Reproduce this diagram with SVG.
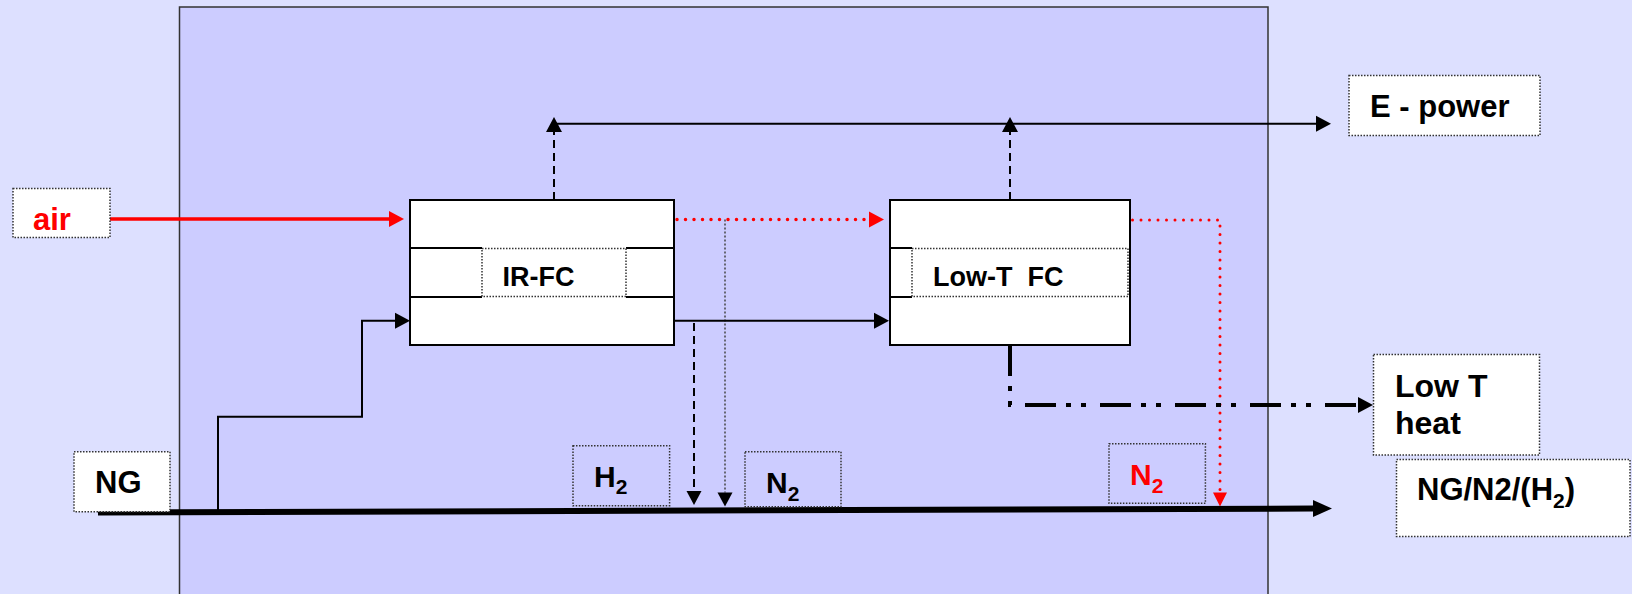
<svg xmlns="http://www.w3.org/2000/svg" width="1632" height="594" viewBox="0 0 1632 594">
<defs>
<style>
.t{font-family:"Liberation Sans",Arial,sans-serif;font-weight:bold;fill:#000}
.red{fill:#ff0000}
.lbl{stroke:#333;stroke-width:1.5;stroke-dasharray:1.5 1.5}
.wh{fill:#fff}
.clear{fill:none}
.fc{fill:#fff;stroke:#000;stroke-width:2}
.div{stroke:#000;stroke-width:2}
.ln{fill:none;stroke:#000;stroke-width:2}
.dash{stroke-dasharray:8 5}
.rdot{fill:none;stroke:#ff0000;stroke-width:3.5;stroke-linecap:round;stroke-dasharray:0 8.5}
</style>
<marker id="ah" markerUnits="userSpaceOnUse" markerWidth="16" markerHeight="16" refX="0" refY="8" orient="auto" overflow="visible">
<path d="M0,0 L15,8 L0,16 z" fill="#000"/>
</marker>
<marker id="ahs" markerUnits="userSpaceOnUse" markerWidth="15" markerHeight="15" refX="0" refY="7.5" orient="auto" overflow="visible">
<path d="M0,0 L14,7.5 L0,15 z" fill="#000"/>
</marker>
<marker id="ahr" markerUnits="userSpaceOnUse" markerWidth="16" markerHeight="16" refX="0" refY="8" orient="auto" overflow="visible">
<path d="M0,0 L15,8 L0,16 z" fill="#ff0000"/>
</marker>
<marker id="ahrs" markerUnits="userSpaceOnUse" markerWidth="15" markerHeight="15" refX="0" refY="7" orient="auto" overflow="visible">
<path d="M0,0 L14,7 L0,14 z" fill="#ff0000"/>
</marker>
<marker id="ahb" markerUnits="userSpaceOnUse" markerWidth="20" markerHeight="18" refX="0" refY="8.5" orient="auto" overflow="visible">
<path d="M0,0 L19,8.5 L0,17 z" fill="#000"/>
</marker>
</defs>

<rect width="1632" height="594" fill="#dde0ff"/>
<rect id="system" x="179.5" y="7" width="1088.5" height="600" fill="#ccccff" stroke="#333" stroke-width="1.5"/>

<g id="connectors">
<path d="M104,219 L389,219" fill="none" stroke="#ff0000" stroke-width="3.5" marker-end="url(#ahr)"/>
<path d="M554,200 L554,132" class="ln dash" marker-end="url(#ah)"/>
<path d="M1010,200 L1010,132" class="ln dash" marker-end="url(#ah)"/>
<path d="M553,123.7 L1316,123.7" class="ln" marker-end="url(#ah)"/>
<path d="M677,219.5 L869,219.5" class="rdot" marker-end="url(#ahr)"/>
<path d="M1124,220 L1220,220 L1220,492.5" class="rdot" style="stroke-width:3" marker-end="url(#ahrs)"/>
<path d="M725,219.5 L725,492.5" fill="none" stroke="#444" stroke-width="1.5" stroke-dasharray="2 2" marker-end="url(#ahs)"/>
<path d="M694,323 L694,491" class="ln dash" marker-end="url(#ahs)"/>
<path d="M674,320.7 L874,320.7" class="ln" marker-end="url(#ah)"/>
<path d="M218,511 L218,416.7 L362,416.7 L362,320.7 L395,320.7" class="ln" marker-end="url(#ah)"/>
<path d="M98,512.5 L1313,508.5" fill="none" stroke="#000" stroke-width="6" marker-end="url(#ahb)"/>
<path d="M1010,345 L1010,405 L1358,405" fill="none" stroke="#000" stroke-width="4" stroke-dasharray="31 10 5 10 5 14" marker-end="url(#ah)"/>
</g>

<g id="air">
<rect x="13" y="188.5" width="97" height="49" class="lbl wh"/>
<text x="33" y="230" class="t red" font-size="31">air</text>
</g>

<g id="ir-fc">
<rect x="410" y="200" width="264" height="145" class="fc"/>
<path d="M410,248 H482 M626,248 H674 M410,297 H482 M626,297 H674" class="div"/>
<rect x="482" y="248.5" width="144" height="48" class="lbl wh"/>
<text x="502.5" y="285.5" class="t" font-size="27">IR-FC</text>
</g>

<g id="low-t-fc">
<rect x="890" y="200" width="240" height="145" class="fc"/>
<path d="M890,248 H912 M890,297 H912" class="div"/>
<rect x="912" y="248.5" width="216" height="48" class="lbl wh"/>
<text x="933" y="285.5" class="t" font-size="27" style="white-space:pre">Low-T  FC</text>
</g>

<g id="e-power">
<rect x="1349" y="75.5" width="191" height="60" class="lbl wh"/>
<text x="1370" y="116.7" class="t" font-size="31">E - power</text>
</g>

<g id="low-t-heat">
<rect x="1373.5" y="354.5" width="166" height="100.5" class="lbl wh"/>
<text x="1395" y="396.7" class="t" font-size="32">Low T</text>
<text x="1395" y="434" class="t" font-size="32">heat</text>
</g>

<g id="ng-out">
<rect x="1396.5" y="459.5" width="233.5" height="77" class="lbl wh"/>
<text x="1417" y="500" class="t" font-size="31">NG/N2/(H<tspan font-size="21" dy="8">2</tspan><tspan dy="-8">)</tspan></text>
</g>

<g id="ng">
<rect x="74" y="451.7" width="96" height="60" class="lbl wh"/>
<text x="95" y="492.7" class="t" font-size="31">NG</text>
</g>

<g id="h2">
<rect x="573" y="445.7" width="96.6" height="60" class="lbl clear"/>
<text x="594" y="486.7" class="t" font-size="30">H<tspan font-size="21" dy="7.6">2</tspan></text>
</g>

<g id="n2">
<rect x="745" y="451.7" width="96" height="55" class="lbl clear"/>
<text x="766" y="492.7" class="t" font-size="30">N<tspan font-size="21" dy="8">2</tspan></text>
</g>

<g id="n2-red">
<rect x="1109" y="443.7" width="96.4" height="59.6" class="lbl clear"/>
<text x="1130" y="485" class="t red" font-size="30">N<tspan font-size="21" dy="7.7">2</tspan></text>
</g>
</svg>
